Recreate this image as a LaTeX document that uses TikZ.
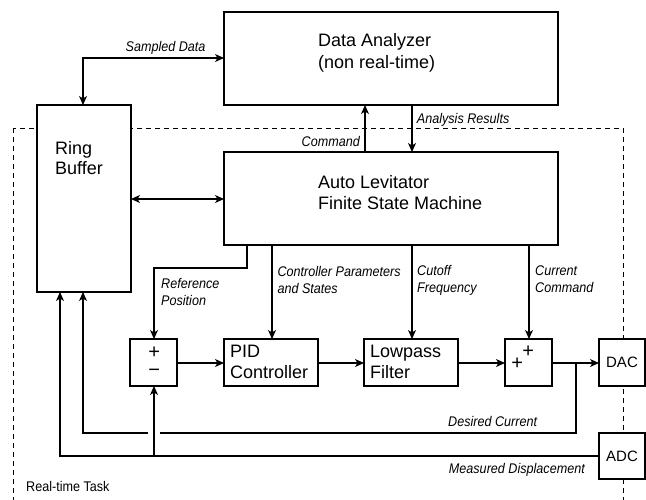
\documentclass[tikz,border=0pt]{standalone}
\usepackage{fontspec}
\setmainfont{Liberation Sans}
\newfontfamily\lblfont[FakeStretch=0.9]{Liberation Sans}
\usetikzlibrary{arrows.meta}
\begin{document}
\begin{tikzpicture}[x=1pt,y=-1pt,
  heavybox/.style={draw, line width=2.3pt, fill=white, inner sep=0pt, outer sep=0pt, anchor=north west},
  lightbox/.style={draw, line width=1.2pt, fill=white, inner sep=0pt, outer sep=0pt, anchor=north west},
  wire/.style={line width=1.1pt},
  tip/.tip={Stealth[length=9pt,width=8pt,inset=2.5pt]},
  arr/.style={wire, -tip},
  darr/.style={wire, tip-tip},
  maintxt/.style={font=\fontsize{18}{21}\selectfont, inner sep=0pt, anchor=base west},
  signtxt/.style={font=\fontsize{20}{20}\selectfont, inner sep=0pt},
  lbl/.style={font=\lblfont\itshape\fontsize{14}{17}\selectfont, inner sep=0pt, anchor=base west},
  lblr/.style={lbl, anchor=base east},
  tasktxt/.style={font=\lblfont\fontsize{14}{17}\selectfont, inner sep=0pt, anchor=base west},
]
\useasboundingbox (0,0) rectangle (646,499);

% real-time task boundary
\draw[line width=1pt, dash pattern=on 5pt off 4pt] (13,128) rectangle (623,500.5);
\node[tasktxt] (task) at (26,491.7) {Real-time Task};

% main blocks
\node[heavybox, minimum width=334pt, minimum height=93pt] (da) at (224,12) {};
\node[maintxt] (da1) at (318,46.7) {Data Analyzer};
\node[maintxt] (da2) at (318,68.5) {(non real-time)};

\node[heavybox, minimum width=334pt, minimum height=93pt] (fsm) at (224,152) {};
\node[maintxt] (fsm1) at (318,188) {Auto Levitator};
\node[maintxt] (fsm2) at (318,209) {Finite State Machine};

\node[lightbox, minimum width=94pt, minimum height=187pt] (rb) at (37,105) {};
\node[maintxt] (rb1) at (55,154) {Ring};
\node[maintxt] (rb2) at (55,174) {Buffer};

% signal chain
\node[lightbox, minimum width=47pt, minimum height=47pt] (sa) at (130,339) {};
\node[signtxt] (sap) at (154.3,352.3) {+};
\node[signtxt] (sam) at (154.3,373.3) {−};

\node[lightbox, minimum width=94pt, minimum height=47pt] (pid) at (224,339) {};
\node[maintxt] (pid1) at (230,357.3) {PID};
\node[maintxt] (pid2) at (230,378.3) {Controller};

\node[lightbox, minimum width=94pt, minimum height=47pt] (lpf) at (364,339) {};
\node[maintxt] (lpf1) at (370,357.3) {Lowpass};
\node[maintxt] (lpf2) at (370,378.3) {Filter};

\node[lightbox, minimum width=47pt, minimum height=47pt] (sb) at (505,339) {};
\node[signtxt] (sbp) at (517.3,363.3) {+};
\node[signtxt] (sbq) at (528.3,351.7) {+};

\node[lightbox, minimum width=46pt, minimum height=47pt, font=\fontsize{15}{15}\selectfont] (dac) at (599,339) {DAC};
\node[lightbox, minimum width=46pt, minimum height=46pt, font=\fontsize{15}{15}\selectfont] (adc) at (599,433) {ADC};

% routing points
\coordinate (sd) at (83,58);
\coordinate (rbf) at (0,199);
\coordinate (cmd) at (365,0);
\coordinate (ar) at (412,0);
\coordinate (rp) at (247,268);
\coordinate (rpx) at (154,0);
\coordinate (cp) at (272,0);
\coordinate (cf) at (412,0);
\coordinate (cc) at (529,0);
\coordinate (sig) at (0,363);
\coordinate (tap) at (576,363);
\coordinate (dcy) at (0,433);
\coordinate (dcx) at (83,0);
\coordinate (gapr) at (160,433);
\coordinate (gapl) at (148,433);
\coordinate (mdy) at (0,456);
\coordinate (mdx) at (60,0);

% links to the data analyzer
\draw[darr] (rb.north -| sd) |- (da.west |- sd);
\node[lblr] (sdl) at (205.7,51.7) {Sampled Data};
\draw[darr] (rb.east |- rbf) -- (fsm.west |- rbf);
\draw[arr] (fsm.north -| cmd) -- (da.south -| cmd);
\node[lblr] (cmdl) at (360,146) {Command};
\draw[arr] (da.south -| ar) -- (fsm.north -| ar);
\node[lbl] (arl) at (416.7,123.3) {Analysis Results};

% state machine outputs
\draw[arr] (fsm.south -| rp) |- (rp -| rpx) -- (sa.north -| rpx);
\node[lbl] (rpl1) at (161,288) {Reference};
\node[lbl] (rpl2) at (161,305) {Position};
\draw[arr] (fsm.south -| cp) -- (pid.north -| cp);
\node[lbl] (cpl1) at (277.3,276) {Controller Parameters};
\node[lbl] (cpl2) at (277.3,293) {and States};
\draw[arr] (fsm.south -| cf) -- (lpf.north -| cf);
\node[lbl] (cfl1) at (417,275) {Cutoff};
\node[lbl] (cfl2) at (417,292) {Frequency};
\draw[arr] (fsm.south -| cc) -- (sb.north -| cc);
\node[lbl] (ccl1) at (535,275) {Current};
\node[lbl] (ccl2) at (535,292) {Command};

% forward path
\draw[arr] (sa.east |- sig) -- (pid.west |- sig);
\draw[arr] (pid.east |- sig) -- (lpf.west |- sig);
\draw[arr] (lpf.east |- sig) -- (sb.west |- sig);
\draw[arr] (sb.east |- sig) -- (dac.west |- sig);

% desired current logged back to the ring buffer
\draw[wire] (tap) |- (gapr);
\draw[arr] (gapl) -| (rb.south -| dcx);
\node[lblr] (dcl) at (537.3,426.7) {Desired Current};

% measured displacement feedback
\draw[arr] (adc.west |- mdy) -| (rb.south -| mdx);
\draw[arr] (mdy -| rpx) -- (sa.south -| rpx);
\node[lblr] (mdl) at (585,473.3) {Measured Displacement};
\end{tikzpicture}
\end{document}
